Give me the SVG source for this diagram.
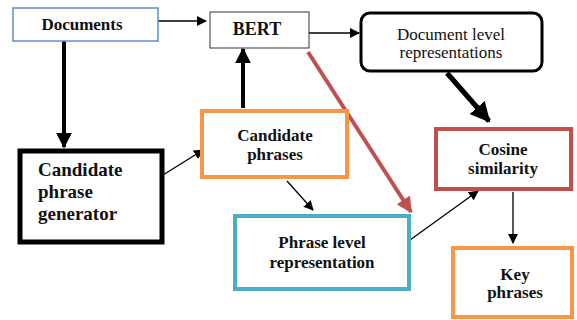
<svg xmlns="http://www.w3.org/2000/svg" width="577" height="320" viewBox="0 0 577 320">
<defs>
<marker id="ah" viewBox="0 0 10 10" refX="9" refY="5" markerWidth="10" markerHeight="10" markerUnits="userSpaceOnUse" orient="auto"><path d="M0,0 L10,5 L0,10 z" fill="#000"/></marker>
<marker id="ahb" viewBox="0 0 10 10" refX="9" refY="5" markerWidth="4" markerHeight="4" orient="auto"><path d="M0,0 L10,5 L0,10 z" fill="#000"/></marker>
<marker id="ahr" viewBox="0 0 10 10" refX="9" refY="5" markerWidth="4" markerHeight="4" orient="auto"><path d="M0,0 L10,5 L0,10 z" fill="#c0504d"/></marker>
</defs>
<style>
.b{font-weight:bold;}
.c{fill:none;stroke:#000;stroke-width:1.3;}
.t{fill:none;stroke:#000;stroke-width:4;}
</style>
<rect width="577" height="320" fill="#fff"/>
<g id="connectors">
<line class="c" x1="156" y1="21" x2="206" y2="21" marker-end="url(#ah)"/>
<line class="t" x1="64" y1="41" x2="64" y2="147" marker-end="url(#ahb)"/>
<line class="c" x1="163" y1="175" x2="203" y2="150" marker-end="url(#ah)"/>
<line class="t" x1="243" y1="108" x2="243" y2="49" marker-end="url(#ahb)"/>
<line class="c" x1="309" y1="33" x2="359" y2="33" marker-end="url(#ah)"/>
<line x1="308" y1="52" x2="411" y2="212" stroke="#c0504d" stroke-width="4" marker-end="url(#ahr)"/>
<line class="c" x1="287" y1="181" x2="313" y2="210" marker-end="url(#ah)"/>
<line x1="447" y1="73" x2="489" y2="121" stroke="#000" stroke-width="5" marker-end="url(#ahb)"/>
<line class="c" x1="410" y1="240" x2="478" y2="191" marker-end="url(#ah)"/>
<line class="c" x1="513" y1="192" x2="513" y2="243" marker-end="url(#ah)"/>
</g>
<g font-family="'Liberation Serif', 'DejaVu Serif', serif" fill="#111">
<g id="documents">
<rect x="13" y="8" width="145" height="33" fill="#fff" stroke="#5b8fd0" stroke-width="1.5"/>
<text class="b" x="82" y="30" font-size="17" text-anchor="middle">Documents</text>
</g>
<g id="bert">
<rect x="210" y="12" width="99" height="36" fill="#fff" stroke="#333" stroke-width="1"/>
<text class="b" x="257" y="35" font-size="18" text-anchor="middle">BERT</text>
</g>
<g id="doclevel">
<rect x="361" y="13" width="181" height="58" rx="9" fill="#fff" stroke="#000" stroke-width="3"/>
<text x="451" y="40" font-size="17" text-anchor="middle">Document level</text>
<text x="451" y="58" font-size="17" text-anchor="middle">representations</text>
</g>
<g id="generator">
<rect x="20" y="151" width="142" height="91" fill="#fff" stroke="#000" stroke-width="5"/>
<text class="b" x="38" y="176" font-size="19">Candidate</text>
<text class="b" x="38" y="198" font-size="19">phrase</text>
<text class="b" x="38" y="220" font-size="19">generator</text>
</g>
<g id="candidates">
<rect x="202" y="111" width="145" height="66" fill="#fff" stroke="#f79646" stroke-width="4"/>
<text class="b" x="275" y="141" font-size="17" text-anchor="middle">Candidate</text>
<text class="b" x="275" y="160" font-size="17" text-anchor="middle">phrases</text>
</g>
<g id="phraselevel">
<rect x="235" y="216" width="174" height="73" fill="#fff" stroke="#4bacc6" stroke-width="4"/>
<text class="b" x="322" y="248" font-size="17" text-anchor="middle">Phrase level</text>
<text class="b" x="322" y="268" font-size="17" text-anchor="middle">representation</text>
</g>
<g id="cosine">
<rect x="436" y="129" width="135" height="60" fill="#fff" stroke="#c0504d" stroke-width="4"/>
<text class="b" x="503" y="155" font-size="17" text-anchor="middle">Cosine</text>
<text class="b" x="503" y="174" font-size="17" text-anchor="middle">similarity</text>
</g>
<g id="keyphrases">
<rect x="453" y="248" width="119" height="69" fill="#fff" stroke="#f79646" stroke-width="4"/>
<text class="b" x="515" y="280" font-size="17" text-anchor="middle">Key</text>
<text class="b" x="515" y="298" font-size="17" text-anchor="middle">phrases</text>
</g>
</g>
</svg>
